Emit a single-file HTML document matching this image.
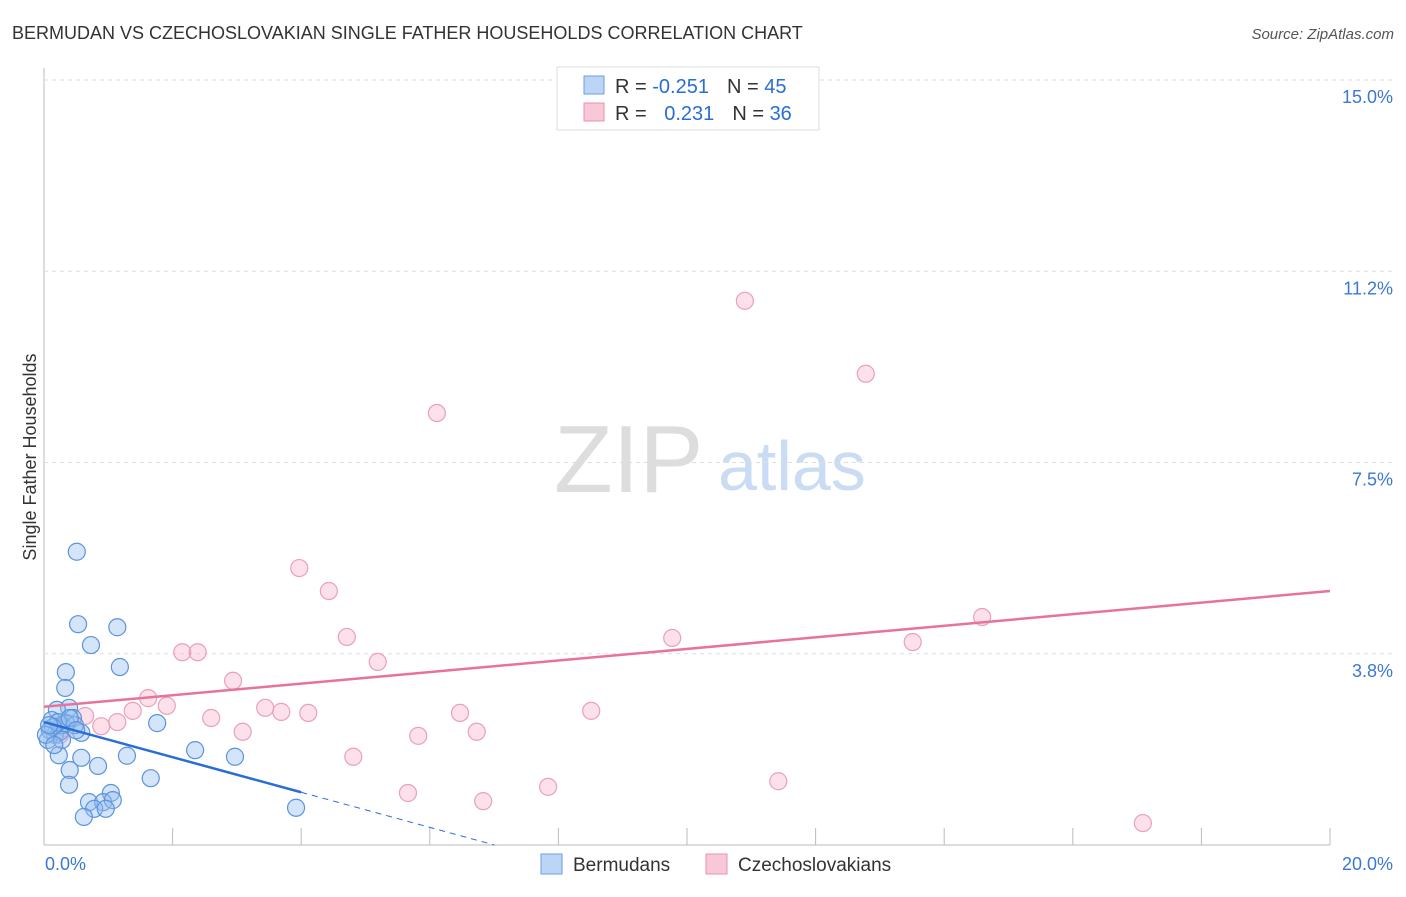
<!DOCTYPE html>
<html><head><meta charset="utf-8"><style>
body{margin:0;background:#fff;font-family:"Liberation Sans",sans-serif}
svg text{font-family:"Liberation Sans",sans-serif}
</style></head><body>
<svg id="c" width="1406" height="892">
<text x="12" y="39" font-size="18" fill="#333">BERMUDAN VS CZECHOSLOVAKIAN SINGLE FATHER HOUSEHOLDS CORRELATION CHART</text>
<text x="1394" y="39" font-size="15" fill="#555" text-anchor="end" font-style="italic">Source: ZipAtlas.com</text>
<text x="554" y="492" font-size="96" fill="#ddd" font-family="Liberation Serif">ZIP</text>
<text x="718" y="490" font-size="70" fill="#c9dcf3">atlas</text>
<text x="36" y="457" font-size="18" fill="#333" text-anchor="middle" transform="rotate(-90 36 457)">Single Father Households</text>
<g id="grid"></g><g id="marks"></g>
<g>
<rect x="557" y="67" width="262" height="63" fill="#fff" stroke="#ddd"/>
<rect x="584" y="76" width="20" height="18" fill="#bcd5f5" stroke="#6a9fe0"/>
<rect x="584" y="103" width="20" height="18" fill="#f8c8d6" stroke="#e890aa"/>
<text x="615" y="93" font-size="20" fill="#333">R = <tspan fill="#2a6dd4">-0.251</tspan><tspan dx="18">N = </tspan><tspan fill="#2a6dd4">45</tspan></text>
<text x="615" y="120" font-size="20" fill="#333">R = <tspan dx="12" fill="#2a6dd4">0.231</tspan><tspan dx="18">N = </tspan><tspan fill="#2a6dd4">36</tspan></text>
</g>
<g>
<rect x="541" y="854" width="21" height="20" fill="#bcd5f5" stroke="#6a9fe0"/>
<text x="573" y="871" font-size="19" fill="#333">Bermudans</text>
<rect x="706" y="854" width="21" height="20" fill="#f8c8d6" stroke="#e890aa"/>
<text x="738" y="871" font-size="19" fill="#333">Czechoslovakians</text>
</g>
</svg>
<script>
const blueX=[0.51,0.53,1.14,0.73,1.18,0.34,0.33,0.39,0.45,0.20,0.12,0.09,0.17,0.25,0.06,0.58,1.76,2.35,2.97,0.23,1.29,0.84,0.58,0.40,1.66,0.39,1.04,0.70,0.92,1.07,0.78,0.96,0.62,3.92,0.28,0.34,0.48,0.22,0.14,0.28,0.03,0.40,0.16,0.50,0.08];
const blueY=[5.75,4.33,4.27,3.92,3.49,3.39,3.08,2.69,2.49,2.65,2.45,2.25,2.16,2.22,2.06,2.20,2.39,1.86,1.73,1.76,1.75,1.55,1.71,1.47,1.31,1.18,1.02,0.84,0.84,0.88,0.71,0.71,0.55,0.73,2.35,2.39,2.35,2.41,2.31,2.06,2.16,2.49,1.96,2.25,2.35];
const pinkX=[10.90,12.78,6.11,3.97,4.43,4.71,9.77,14.59,13.51,5.19,2.15,2.39,2.94,1.62,1.91,3.44,3.69,4.11,1.38,2.60,1.14,0.89,0.64,3.09,6.47,8.51,6.73,5.82,4.81,5.66,6.83,7.84,11.42,17.09,0.33,0.25];
const pinkY=[10.67,9.24,8.47,5.43,4.98,4.08,4.06,4.47,3.98,3.59,3.78,3.78,3.22,2.88,2.73,2.69,2.61,2.59,2.63,2.49,2.41,2.33,2.53,2.22,2.59,2.63,2.22,2.14,1.73,1.02,0.86,1.14,1.25,0.43,2.29,2.16];
const yTicks=[3.75,7.5,11.25,15];
const yTickLabels=["3.8%","7.5%","11.2%","15.0%"];
const blueTrend=[2.41,-0.344];
const pinkTrend=[2.71,0.1135];
const NS='http://www.w3.org/2000/svg';
const X=v=>44+v/20*1286, Y=v=>845-v/15*765;
function mk(t,a,p){const e=document.createElementNS(NS,t);for(const k in a)e.setAttribute(k,a[k]);p.appendChild(e);return e;}
const g=document.getElementById('grid'),m=document.getElementById('marks');
let ax=mk('line',{x1:44,y1:68,x2:44,y2:845,stroke:'#bbb'},g);

let bx=mk('line',{x1:44,y1:845,x2:1330,y2:845,stroke:'#bbb'},g);

for(let i=1;i<=10;i++){const t=mk('line',{x1:X(i*2),x2:X(i*2),y1:828,y2:845,stroke:'#bbb'},g);
}
yTicks.forEach((v,i)=>{const l=mk('line',{x1:44,x2:1394,y1:Y(v),y2:Y(v),stroke:'#ddd','stroke-dasharray':'4 4'},g);

const t=mk('text',{x:1393,y:Y(v)+23,'text-anchor':'end','font-size':18,fill:'#3a78d4'},g);t.textContent=yTickLabels[i];
});
const x0=mk('text',{x:45,y:870,'font-size':18,fill:'#3a78d4'},g);x0.textContent='0.0%';

const x1=mk('text',{x:1393,y:870,'font-size':18,fill:'#3a78d4','text-anchor':'end'},g);x1.textContent='20.0%';

pinkX.forEach((v,i)=>{const c=mk('circle',{cx:X(v),cy:Y(pinkY[i]),r:8.5,fill:'rgba(245,170,195,0.35)',stroke:'#eaa0b8','stroke-width':1.2},m);
});
blueX.forEach((v,i)=>{const c=mk('circle',{cx:X(v),cy:Y(blueY[i]),r:8.5,fill:'rgba(150,190,240,0.4)',stroke:'#5b93dc','stroke-width':1.2},m);
});
const bEnd=-blueTrend[0]/blueTrend[1];
let l1=mk('line',{x1:X(0),y1:Y(blueTrend[0]),x2:X(4),y2:Y(blueTrend[0]+blueTrend[1]*4),stroke:'#2a6dd4','stroke-width':2.5},m);

let l2=mk('line',{x1:X(4),y1:Y(blueTrend[0]+blueTrend[1]*4),x2:X(bEnd),y2:Y(0),stroke:'#2a6dd4','stroke-width':1,'stroke-dasharray':'6 5'},m);

let l3=mk('line',{x1:X(0),y1:Y(pinkTrend[0]),x2:X(20),y2:Y(pinkTrend[0]+pinkTrend[1]*20),stroke:'#e8739a','stroke-width':2.5},m);

</script>
</body></html>
